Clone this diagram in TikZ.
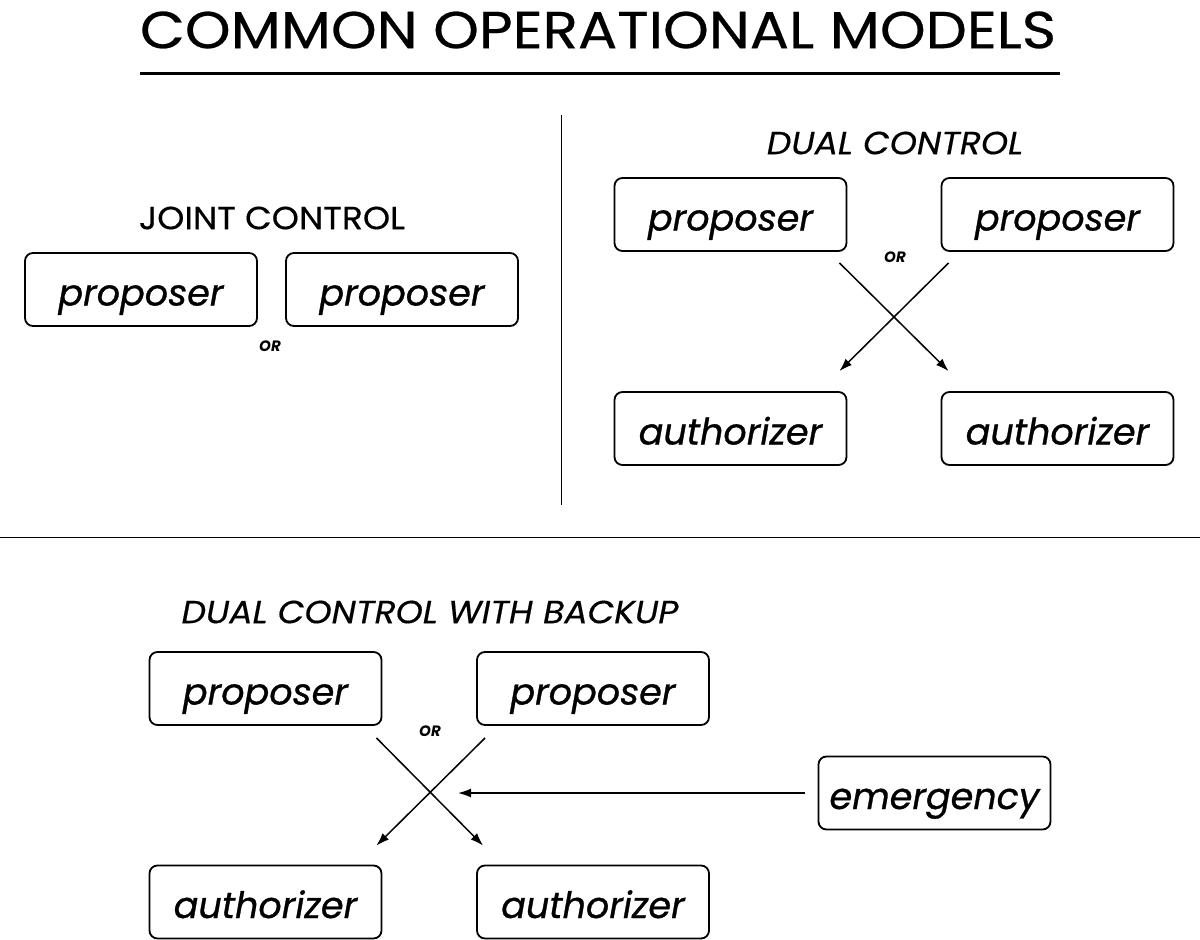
\documentclass[tikz,border=0pt]{standalone}
\usepackage{fontspec}
\setmainfont{Poppins}
\newfontfamily\titlefont{Poppins}[FakeStretch=1.12, FakeBold=0.5]
\newfontfamily\headfont{Poppins}[FakeStretch=1.08, FakeBold=0.4]
\newfontfamily\boxfont{Poppins}[FakeBold=0.8]
\usetikzlibrary{arrows, arrows.meta}

\begin{document}
\begin{tikzpicture}[x=1pt, y=-1pt, block/.style={draw, rounded corners=8pt, line width=1.8pt, minimum width=232pt, minimum height=73pt, inner sep=0pt, text height=32pt, text depth=0pt, font=\boxfont\fontsize{36.5}{40}\selectfont\itshape}]
            \tikzset{heading/.style = {font=\headfont\fontsize{32}{38}\selectfont}}
            \tikzset{ortext/.style = {font=\fontsize{15}{17}\selectfont\bfseries\itshape}}
            \tikzset{edge/.style = {->,> = {Latex[length=13pt, width=9pt]}, line width=1.5pt}}
            \useasboundingbox (0,0) rectangle (1200,940);

            \node[font=\titlefont\fontsize{52}{58}\selectfont] (title) at (598,30) {COMMON OPERATIONAL MODELS};
            \draw[line width=3pt] (140,73) -- (1060,73);
            \draw[line width=1pt] (561,115) -- (561,505);
            \draw[line width=1pt] (0,537) -- (1200,537);

            % joint control
            \node[heading] (joint) at (272,218) {JOINT CONTROL};
            \node[block] (jprop1) at (141,289.5) {proposer};
            \node[block] (jprop2) at (402,289.5) {proposer};
            \node[ortext] (jor) at (270,346) {OR};

            % dual control
            \node[heading] (dual) at (895,143) {\itshape DUAL CONTROL};
            \node[block] (dprop1) at (730.5,214.5) {proposer};
            \node[block] (dprop2) at (1057.5,214.5) {proposer};
            \node[block] (dauth1) at (730.5,428.5) {authorizer};
            \node[block] (dauth2) at (1057.5,428.5) {authorizer};
            \node[ortext] (dor) at (895,257) {OR};

            \draw [edge] ([xshift=-8pt, yshift=-11pt]dprop1.south east) to ([xshift=8pt, yshift=20pt]dauth2.north west);
            \draw [edge] ([xshift=8pt, yshift=-11pt]dprop2.south west) to ([xshift=-8pt, yshift=20pt]dauth1.north east);

            % dual control with backup
            \node[heading] (backup) at (430,612) {\itshape DUAL CONTROL WITH BACKUP};
            \node[block] (bprop1) at (265.5,688.5) {proposer};
            \node[block] (bprop2) at (593,688.5) {proposer};
            \node[block] (bauth1) at (265.5,902) {authorizer};
            \node[block] (bauth2) at (593,902) {authorizer};
            \node[block] (emerg) at (934.5,793) {emergency};
            \node[ortext] (bor) at (430,731) {OR};
            \coordinate (cross) at (458,793);

            \draw [edge] ([xshift=-6pt, yshift=-12pt]bprop1.south east) to ([xshift=7pt, yshift=19pt]bauth2.north west);
            \draw [edge] ([xshift=9pt, yshift=-12pt]bprop2.south west) to ([xshift=-6pt, yshift=19pt]bauth1.north east);
            \draw [edge] ([xshift=-13pt]emerg.west) to (cross);

            \end{tikzpicture}
\end{document}
